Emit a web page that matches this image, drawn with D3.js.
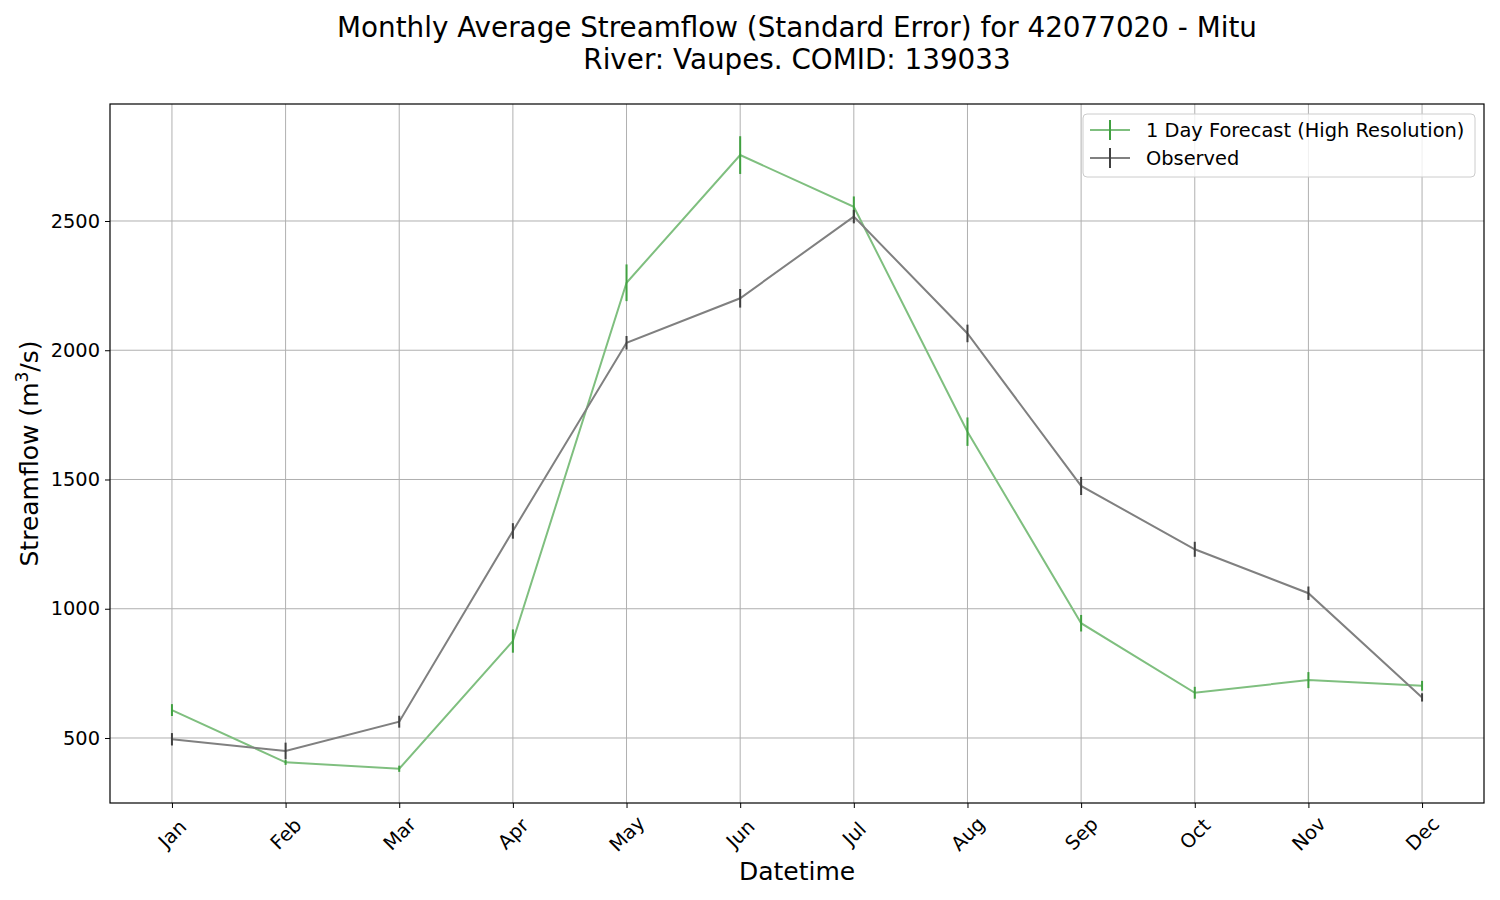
<!DOCTYPE html>
<html>
<head>
<meta charset="utf-8">
<script src="https://cdn.jsdelivr.net/npm/d3@7"></script>
<style>
  body { margin: 0; background: #fff; }
  svg { font-family: "DejaVu Sans", sans-serif; }
</style>
</head>
<body>
<div class="canvas"></div>
<script>
// data
const months = ["Jan", "Feb", "Mar", "Apr", "May", "Jun", "Jul", "Aug", "Sep", "Oct", "Nov", "Dec"];
const forecast = [608, 406, 381, 875, 2261, 2755, 2555, 1685, 944, 675, 724, 702];
const forecastErr = [23, 10, 12, 45, 71, 73, 40, 55, 32, 23, 31, 19];
const observed = [495, 450, 563, 1301, 2029, 2201, 2517, 2065, 1475, 1230, 1060, 657];
const observedErr = [24, 32, 23, 30, 26, 36, 26, 34, 35, 29, 26, 16];
const yTicks = [500, 1000, 1500, 2000, 2500];

const series = [
  { name: "1 Day Forecast (High Resolution)", values: forecast, err: forecastErr, line: "#7fbf7f", bar: "#40a040" },
  { name: "Observed", values: observed, err: observedErr, line: "#808080", bar: "#404040" }
];

const width = 1500;
const height = 900;
const margin = { top: 104, right: 16, bottom: 97, left: 110 };
const graphWidth = width - margin.left - margin.right;
const graphHeight = height - margin.top - margin.bottom;

const svg = d3
  .select(".canvas")
  .append("svg")
  .attr("width", width)
  .attr("height", height);

const graph = svg
  .append("g")
  .attr("transform", `translate(${margin.left}, ${margin.top})`);

// scales
const x = d3.scalePoint().domain(months).range([0, graphWidth]).padding(0.545);
const y = d3.scaleLinear().domain([248.5, 2952.6]).range([graphHeight, 0]);

// grid
graph
  .append("g")
  .selectAll("line")
  .data(months)
  .enter()
  .append("line")
  .attr("x1", (d) => x(d))
  .attr("x2", (d) => x(d))
  .attr("y1", 0)
  .attr("y2", graphHeight)
  .attr("stroke", "#b0b0b0")
  .attr("stroke-width", 1);

graph
  .append("g")
  .selectAll("line")
  .data(yTicks)
  .enter()
  .append("line")
  .attr("x1", 0)
  .attr("x2", graphWidth)
  .attr("y1", (d) => y(d))
  .attr("y2", (d) => y(d))
  .attr("stroke", "#b0b0b0")
  .attr("stroke-width", 1);

// series
const line = d3
  .line()
  .x((d, i) => x(months[i]))
  .y((d) => y(d));

series.forEach((s) => {
  graph
    .append("path")
    .datum(s.values)
    .attr("fill", "none")
    .attr("stroke", s.line)
    .attr("stroke-width", 2)
    .attr("d", line);

  graph
    .append("g")
    .selectAll("line")
    .data(s.values)
    .enter()
    .append("line")
    .attr("x1", (d, i) => x(months[i]))
    .attr("x2", (d, i) => x(months[i]))
    .attr("y1", (d, i) => y(d - s.err[i]))
    .attr("y2", (d, i) => y(d + s.err[i]))
    .attr("stroke", s.bar)
    .attr("stroke-width", 2);
});

// axes
const xAxis = d3.axisBottom(x).tickSize(5).tickPadding(4);
const yAxis = d3
  .axisLeft(y)
  .tickValues(yTicks)
  .tickSize(5)
  .tickPadding(5)
  .tickFormat(d3.format("d"));

const xAxisGroup = graph
  .append("g")
  .attr("transform", `translate(0, ${graphHeight})`)
  .call(xAxis);

xAxisGroup.attr("font-family", null).attr("font-size", 19.4);
xAxisGroup.select(".domain").remove();
xAxisGroup.selectAll("line").attr("stroke", "#000");
xAxisGroup
  .selectAll("text")
  .attr("fill", "#000")
  .attr("text-anchor", "middle")
  .attr("dy", null)
  .attr("y", null)
  .attr("dominant-baseline", "central")
  .attr("transform", "translate(0, 31) rotate(-45)");

const yAxisGroup = graph.append("g").call(yAxis);
yAxisGroup.attr("font-family", null).attr("font-size", 19.4);
yAxisGroup.select(".domain").remove();
yAxisGroup.selectAll("line").attr("stroke", "#000");
yAxisGroup.selectAll("text").attr("fill", "#000");

// frame
graph
  .append("rect")
  .attr("width", graphWidth)
  .attr("height", graphHeight)
  .attr("fill", "none")
  .attr("stroke", "#000")
  .attr("stroke-width", 1.2);

// titles
svg
  .append("text")
  .attr("x", 797)
  .attr("y", 37)
  .attr("text-anchor", "middle")
  .attr("font-size", 27.8)
  .text("Monthly Average Streamflow (Standard Error) for 42077020 - Mitu");

svg
  .append("text")
  .attr("x", 797)
  .attr("y", 69)
  .attr("text-anchor", "middle")
  .attr("font-size", 27.8)
  .text("River: Vaupes. COMID: 139033");

svg
  .append("text")
  .attr("x", margin.left + graphWidth / 2)
  .attr("y", 880)
  .attr("text-anchor", "middle")
  .attr("font-size", 25)
  .text("Datetime");

const yLabel = svg
  .append("text")
  .attr("transform", `translate(38, ${margin.top + graphHeight / 2}) rotate(-90)`)
  .attr("text-anchor", "middle")
  .attr("font-size", 25);
yLabel.append("tspan").text("Streamflow (m");
yLabel.append("tspan").attr("font-size", 17).attr("dy", -10).text("3");
yLabel.append("tspan").attr("dy", 10).text("/s)");

// legend
const legend = svg.append("g").attr("transform", "translate(1083, 114)");

legend
  .append("rect")
  .attr("width", 392)
  .attr("height", 63)
  .attr("rx", 4)
  .attr("fill", "#fff")
  .attr("fill-opacity", 0.8)
  .attr("stroke", "#cccccc");

series.forEach((s, i) => {
  const row = legend.append("g").attr("transform", `translate(0, ${16 + i * 28})`);
  row
    .append("line")
    .attr("x1", 7)
    .attr("x2", 47)
    .attr("stroke", s.line)
    .attr("stroke-width", 2);
  row
    .append("line")
    .attr("x1", 27)
    .attr("x2", 27)
    .attr("y1", -10)
    .attr("y2", 10)
    .attr("stroke", s.bar)
    .attr("stroke-width", 2);
  row
    .append("text")
    .attr("x", 63)
    .attr("dy", "0.35em")
    .attr("font-size", 19.4)
    .text(s.name);
});
</script>
</body>
</html>
